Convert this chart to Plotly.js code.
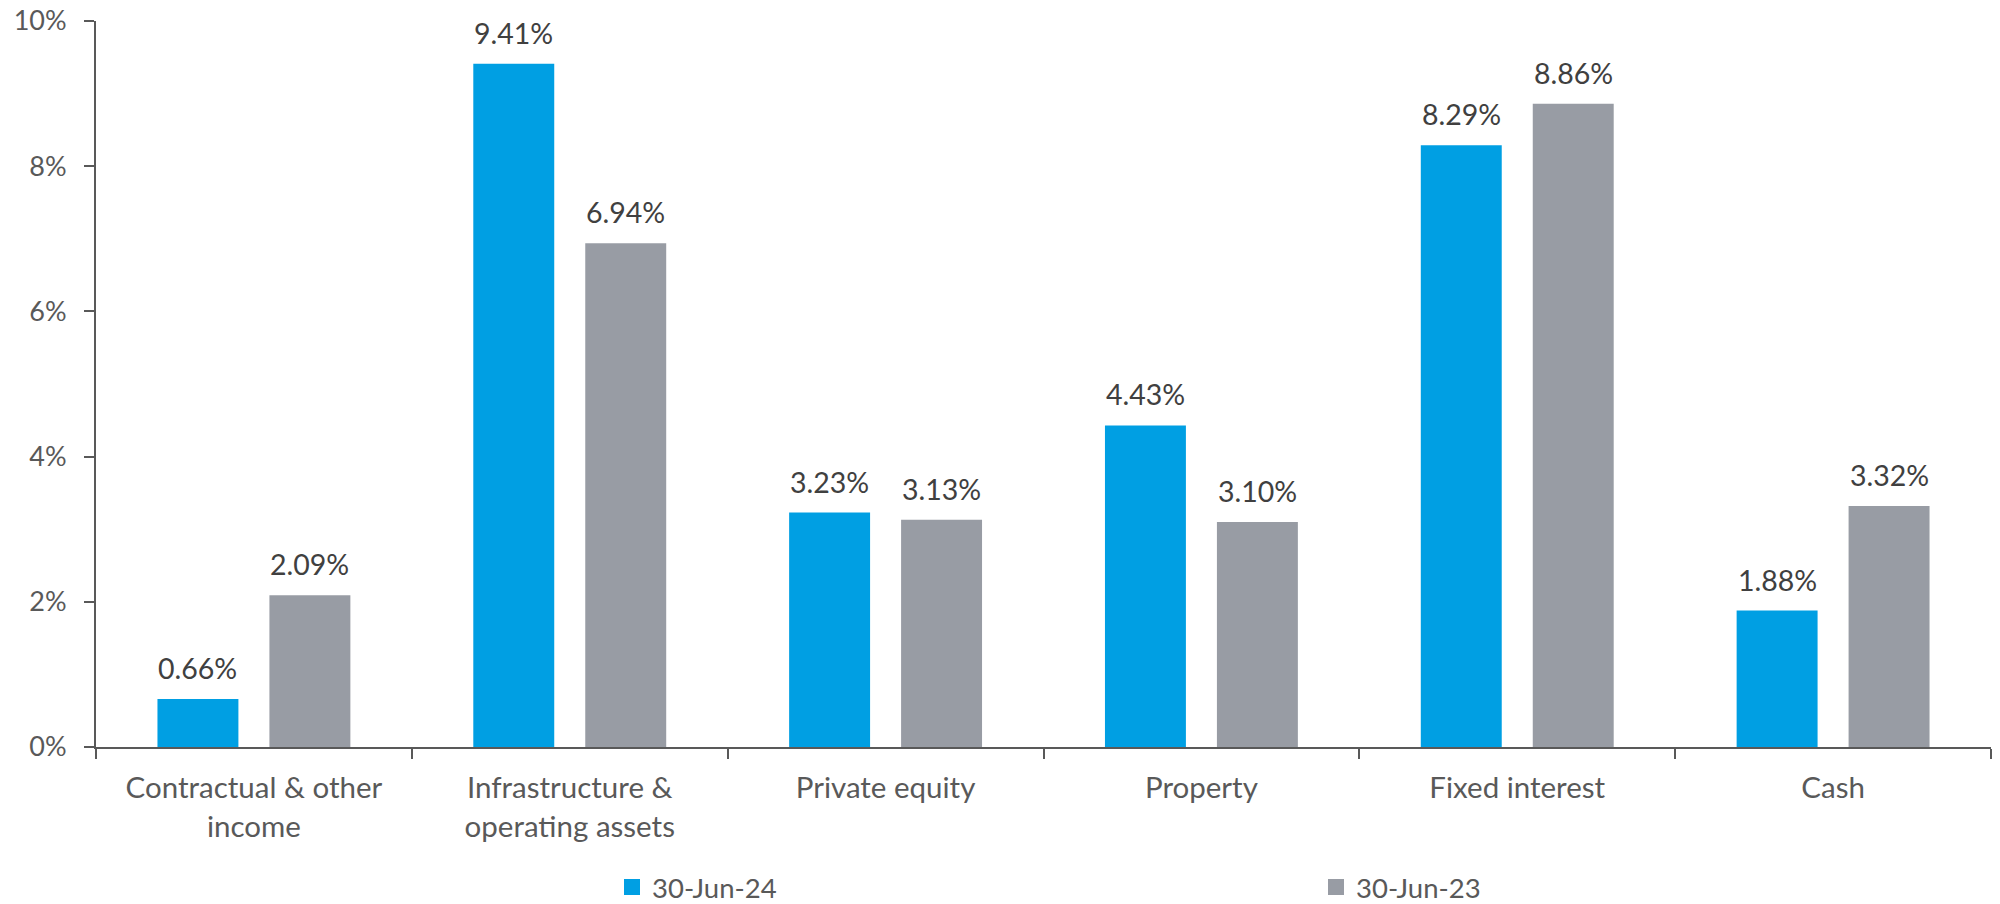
<!DOCTYPE html>
<html>
<head>
<meta charset="utf-8">
<script src="https://cdn.plot.ly/plotly-3.0.1.min.js"></script>
<style>html,body{margin:0;padding:0;background:#fff}#chart{width:2000px;height:904px}</style>
</head>
<body>
<div id="chart"></div>
<script>
const categories = ["Contractual & other<br>income", "Infrastructure &<br>operating assets", "Private equity", "Property", "Fixed interest", "Cash"];
const series2024 = [0.66, 9.41, 3.23, 4.43, 8.29, 1.88];
const series2023 = [2.09, 6.94, 3.13, 3.10, 8.86, 3.32];
const seriesNames = ["30-Jun-24", "30-Jun-23"];
const yTickVals = [0, 2, 4, 6, 8, 10];
const yTickText = ["0%", "2%", "4%", "6%", "8%", "10%"];

const FONT = "Lato, 'Open Sans', sans-serif";
const colors = ["#009FE3", "#989CA4"];
const allSeries = [series2024, series2023];

const traces = allSeries.map((vals, i) => ({
  type: "bar",
  name: seriesNames[i],
  legend: i === 0 ? "legend" : "legend2",
  x: categories,
  y: vals,
  marker: {color: colors[i]},
  showlegend: false,
  hoverinfo: "x+y"
}));

// legend-only entries with larger square swatches
seriesNames.forEach((nm, i) => {
  traces.push({
    type: "scatter", mode: "markers",
    name: nm,
    legend: i === 0 ? "legend" : "legend2",
    x: [null], y: [null],
    marker: {symbol: "square", size: 18, color: colors[i]},
    showlegend: true,
    hoverinfo: "skip"
  });
});

// value labels above bars, derived from the data arrays
const BAR_OFFSET = 56; // half of a bar slot in px
const annotations = [];
allSeries.forEach((vals, i) => {
  vals.forEach((v, j) => {
    annotations.push({
      x: categories[j], y: v, xref: "x", yref: "y",
      text: v.toFixed(2) + "%",
      showarrow: false,
      xanchor: "center", yanchor: "bottom",
      xshift: i === 0 ? -BAR_OFFSET : BAR_OFFSET,
      yshift: 12,
      font: {family: FONT, size: 28.5, color: "#404040"}
    });
  });
});

const legendCommon = {
  orientation: "h",
  xref: "container", yref: "container",
  xanchor: "left", yanchor: "middle",
  y: 1 - 887 / 904,
  font: {family: FONT, size: 27.5, color: "#595959"},
  itemwidth: 30,
  bgcolor: "rgba(0,0,0,0)"
};

const layout = {
  width: 2000,
  height: 904,
  margin: {l: 96, r: 9, t: 21, b: 157},
  paper_bgcolor: "#fff",
  plot_bgcolor: "#fff",
  font: {family: FONT, size: 27, color: "#595959"},
  barmode: "group",
  bargap: 0.291,
  bargroupgap: 0.277,
  showlegend: true,
  legend: Object.assign({}, legendCommon, {x: 612 / 2000}),
  legend2: Object.assign({}, legendCommon, {x: 1316 / 2000}),
  annotations: annotations,
  xaxis: {
    type: "category",
    showline: true, linecolor: "#595959", linewidth: 2,
    ticks: "outside", tickson: "boundaries", ticklen: 10, tickwidth: 2, tickcolor: "#595959",
    ticklabelstandoff: 14,
    showgrid: false, zeroline: false,
    tickfont: {family: FONT, size: 29.5, color: "#595959"},
    automargin: false
  },
  yaxis: {
    range: [0, 10],
    tickvals: yTickVals, ticktext: yTickText,
    showline: true, linecolor: "#595959", linewidth: 2,
    ticks: "outside", ticklen: 10, tickwidth: 2, tickcolor: "#595959",
    ticklabelstandoff: 12,
    showgrid: false, zeroline: false,
    tickfont: {family: FONT, size: 27, color: "#595959"},
    automargin: false
  }
};

Plotly.newPlot("chart", traces, layout, {displayModeBar: false, staticPlot: true});
</script>
</body>
</html>
